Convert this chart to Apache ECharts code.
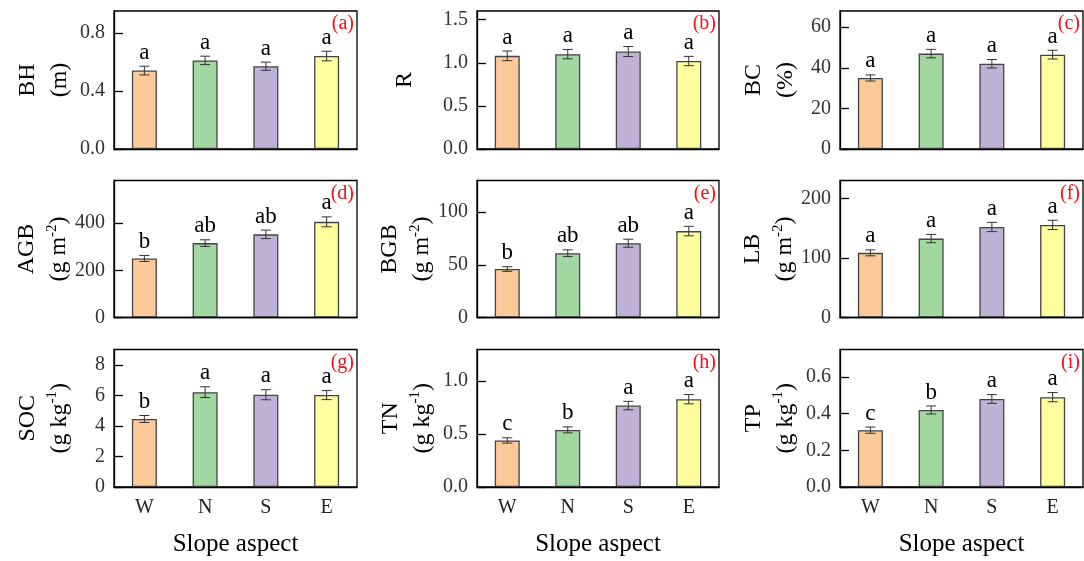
<!DOCTYPE html>
<html>
<head>
<meta charset="utf-8">
<script src="https://cdn.jsdelivr.net/npm/echarts@6/dist/echarts.min.js"></script>
<style>
html,body{margin:0;padding:0;background:#fff;}
#chart{width:1084px;height:561px;}
</style>
</head>
<body>
<div id="chart"></div>
<script>
// ---- data ----
const categories = ['W', 'N', 'S', 'E'];
const panelTags = ['(a)', '(b)', '(c)', '(d)', '(e)', '(f)', '(g)', '(h)', '(i)'];
const varNames = ['BH', 'R', 'BC', 'AGB', 'BGB', 'LB', 'SOC', 'TN', 'TP'];
const unitBase = ['(m)', '', '(%)', '(g m', '(g m', '(g m', '(g kg', '(g kg', '(g kg'];
const unitSup = ['', '', '', '-2', '-2', '-2', '-1', '-1', '-1'];

const bhMean = [0.54, 0.61, 0.57, 0.64];
const bhErr = [0.030, 0.029, 0.028, 0.033];
const bhSig = ['a', 'a', 'a', 'a'];

const rMean = [1.08, 1.10, 1.13, 1.02];
const rErr = [0.056, 0.054, 0.058, 0.054];
const rSig = ['a', 'a', 'a', 'a'];

const bcMean = [35.0, 47.0, 42.0, 46.5];
const bcErr = [1.5, 2.1, 2.1, 2.15];
const bcSig = ['a', 'a', 'a', 'a'];

const agbMean = [250, 315, 352, 405];
const agbErr = [12.8, 14, 18, 21];
const agbSig = ['b', 'ab', 'ab', 'a'];

const bgbMean = [46, 61, 70.5, 82];
const bgbErr = [2.2, 3.2, 3.8, 4.5];
const bgbSig = ['b', 'ab', 'ab', 'a'];

const lbMean = [108.5, 132.5, 152, 155.5];
const lbErr = [5, 7, 7.8, 7.8];
const lbSig = ['a', 'a', 'a', 'a'];

const socMean = [4.45, 6.21, 6.04, 6.02];
const socErr = [0.23, 0.35, 0.33, 0.30];
const socSig = ['b', 'a', 'a', 'a'];

const tnMean = [0.44, 0.54, 0.77, 0.83];
const tnErr = [0.025, 0.028, 0.040, 0.044];
const tnSig = ['c', 'b', 'a', 'a'];

const tpMean = [0.31, 0.42, 0.48, 0.49];
const tpErr = [0.017, 0.022, 0.024, 0.025];
const tpSig = ['c', 'b', 'a', 'a'];

const axisMax = [0.95, 1.6, 68, 580, 130, 230, 9, 1.3, 0.75];
const axisInterval = [0.4, 0.5, 20, 200, 50, 100, 2, 0.5, 0.2];
const axisDecimals = [1, 1, 0, 0, 0, 0, 0, 1, 1];

const barColors = ['#fcc999', '#a1d89f', '#c0b2d6', '#fefe9e'];

// ---- build ----
const means = [bhMean, rMean, bcMean, agbMean, bgbMean, lbMean, socMean, tnMean, tpMean];
const errs = [bhErr, rErr, bcErr, agbErr, bgbErr, lbErr, socErr, tnErr, tpErr];
const sigs = [bhSig, rSig, bcSig, agbSig, bgbSig, lbSig, socSig, tnSig, tpSig];

const FONT = "'Liberation Serif', 'Times New Roman', serif";
const colLeft = [114, 477, 840];
const colWidth = [243, 242, 243];
const rowTop = [11, 180.5, 349.5];
const rowHeight = [138, 137, 137.5];

const grids = [], xAxes = [], yAxes = [], series = [], titles = [];

for (let i = 0; i < 9; i++) {
  const r = Math.floor(i / 3), c = i % 3;
  grids.push({
    left: colLeft[c], top: rowTop[r], width: colWidth[c], height: rowHeight[r],
    show: true, borderColor: '#000', borderWidth: 1.3, backgroundColor: 'transparent'
  });
  xAxes.push({
    type: 'category', gridIndex: i, data: categories, z: 5,
    axisLine: { lineStyle: { color: '#000', width: 1.3 } },
    axisTick: { inside: true, alignWithLabel: true, length: 9, lineStyle: { color: '#222', width: 1.3 } },
    axisLabel: { show: r === 2, color: '#222', fontFamily: FONT, fontSize: 20, margin: 11 },
    name: r === 2 ? 'Slope aspect' : '', nameLocation: 'middle', nameGap: 45,
    nameTextStyle: { color: '#000', fontFamily: FONT, fontSize: 25 }
  });
  let nm = '{n|' + varNames[i] + '}';
  if (unitBase[i]) {
    nm += '\n{n|' + unitBase[i] + '}';
    if (unitSup[i]) nm += '{sup|' + unitSup[i] + '}{n|)}';
  }
  const dec = axisDecimals[i];
  yAxes.push({
    type: 'value', gridIndex: i, min: 0, max: axisMax[i], interval: axisInterval[i], z: 5,
    splitLine: { show: false },
    axisLine: { show: true, lineStyle: { color: '#000', width: 1.3 } },
    axisTick: { show: true, inside: true, length: 9, lineStyle: { color: '#000', width: 1.3 } },
    axisLabel: { color: '#333', fontFamily: FONT, fontSize: 20, margin: 9, showMaxLabel: false,
      formatter: v => v.toFixed(dec) },
    name: nm, nameLocation: 'middle', nameRotate: 90,
    nameGap: unitBase[i] ? 38 : 56,
    nameTextStyle: {
      rich: {
        n: { fontFamily: FONT, fontSize: 24, color: '#000', lineHeight: 32 },
        sup: { fontFamily: FONT, fontSize: 15, color: '#000', lineHeight: 32, verticalAlign: 'top', padding: [1, 0, 0, 0] }
      }
    }
  });
  series.push({
    type: 'bar', xAxisIndex: i, yAxisIndex: i, barWidth: 25, z: 2,
    data: means[i].map((v, k) => ({ value: v, itemStyle: { color: barColors[k] } })),
    itemStyle: { borderColor: '#444', borderWidth: 1.3 }
  });
  const sigArr = sigs[i];
  series.push({
    type: 'custom', xAxisIndex: i, yAxisIndex: i, z: 6,
    data: means[i].map((v, k) => [k, v, errs[i][k]]),
    renderItem: function (params, api) {
      const x = api.value(0), m = api.value(1), e = api.value(2);
      const hi = api.coord([x, m + e]);
      const lo = api.coord([x, m - e]);
      const cx = hi[0];
      const st = { stroke: '#333', lineWidth: 1 };
      return {
        type: 'group',
        children: [
          { type: 'line', shape: { x1: cx, y1: hi[1], x2: cx, y2: lo[1] }, style: st },
          { type: 'line', shape: { x1: cx - 5, y1: hi[1], x2: cx + 5, y2: hi[1] }, style: st },
          { type: 'line', shape: { x1: cx - 5, y1: lo[1], x2: cx + 5, y2: lo[1] }, style: st },
          { type: 'text', style: { text: sigArr[params.dataIndex], x: cx, y: hi[1] - 2,
              align: 'center', verticalAlign: 'bottom', fontFamily: FONT, fontSize: 23, fill: '#000' } }
        ]
      };
    }
  });
  titles.push({
    text: panelTags[i],
    right: 1084 - (colLeft[c] + colWidth[c]) + 3,
    top: rowTop[r] + 3,
    padding: 0,
    textStyle: { color: '#e8131b', fontFamily: FONT, fontSize: 20, fontWeight: 'normal' }
  });
}

const chart = echarts.init(document.getElementById('chart'));
chart.setOption({
  animation: false,
  backgroundColor: '#fff',
  title: titles,
  grid: grids,
  xAxis: xAxes,
  yAxis: yAxes,
  series: series
});
</script>
</body>
</html>
